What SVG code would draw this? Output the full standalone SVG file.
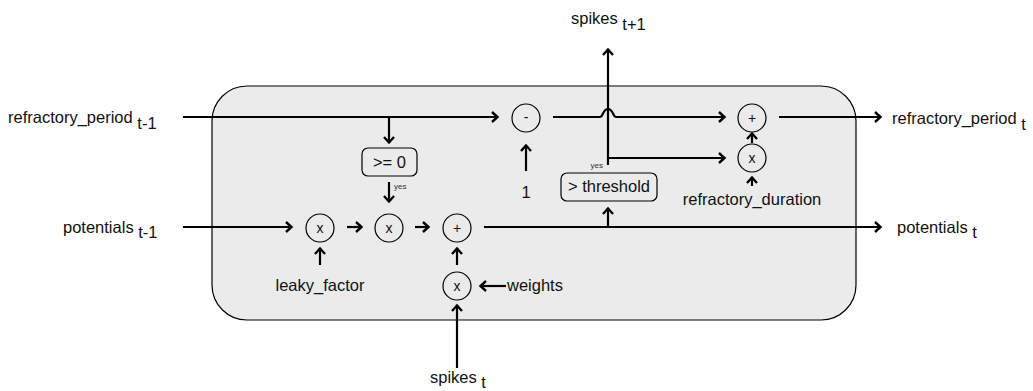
<svg xmlns="http://www.w3.org/2000/svg" width="1033" height="391" viewBox="0 0 1033 391">
  <style>
    text { font-family: "Liberation Sans", Arial, Helvetica, sans-serif; font-size: 16.5px; fill: #111; }
    .sym { font-size: 14px; text-anchor: middle; dominant-baseline: central; }
    .yes { font-size: 8px; fill: #333; }
    .mid { text-anchor: middle; }
    .conn { fill: none; stroke: #000; stroke-width: 2.2; }
    .arr { marker-end: url(#ah); }
    .node { fill: none; stroke: #000; stroke-width: 1.2; }
  </style>
  <defs>
    <marker id="ah" markerUnits="userSpaceOnUse" markerWidth="12" markerHeight="14" viewBox="0 0 12 14" refX="10" refY="7" orient="auto">
      <path d="M4,2 L9.5,7 L4,12" fill="none" stroke="#000" stroke-width="2.4" stroke-linejoin="miter"/>
    </marker>
  </defs>

  <g id="container">
    <rect x="212" y="86" width="644" height="234" rx="35" ry="35" fill="#ebebeb" stroke="#000" stroke-width="1.2"/>
  </g>

  <g id="connectors">
    <path class="conn arr" d="M183,117 H498"/>
    <path class="conn arr" d="M389,117 V143"/>
    <path class="conn arr" d="M389,182 V202"/>
    <path class="conn arr" d="M526,171 V145"/>
    <path class="conn arr" d="M553,117 H600 C603,117 603,109 608,109 C613,109 613,117 616,117 H725"/>
    <path class="conn arr" d="M779,117 H881"/>
    <path class="conn arr" d="M752,143 V133"/>
    <path class="conn arr" d="M752,186 V177"/>
    <path class="conn arr" d="M608,165 V49"/>
    <path class="conn arr" d="M608,158 H725"/>
    <path class="conn arr" d="M608,227 V208"/>
    <path class="conn arr" d="M183,227 H292"/>
    <path class="conn arr" d="M347,227 H362"/>
    <path class="conn arr" d="M415,227 H429"/>
    <path class="conn arr" d="M484,227 H881"/>
    <path class="conn arr" d="M320,265 V248"/>
    <path class="conn arr" d="M457,265 V248"/>
    <path class="conn arr" d="M506,286 H480"/>
    <path class="conn arr" d="M457,368 V305"/>
  </g>

  <g id="mul-leaky">
    <circle class="node" cx="320" cy="228" r="14"/>
    <text class="sym" x="320" y="228">x</text>
  </g>
  <g id="mul-refractory-gate">
    <circle class="node" cx="389" cy="228" r="14"/>
    <text class="sym" x="389" y="228">x</text>
  </g>
  <g id="add-potentials">
    <circle class="node" cx="457" cy="228" r="14"/>
    <text class="sym" x="457" y="228">+</text>
  </g>
  <g id="mul-weights">
    <circle class="node" cx="457" cy="286" r="14"/>
    <text class="sym" x="457" y="286">x</text>
  </g>
  <g id="sub-refractory">
    <circle class="node" cx="526" cy="118" r="14"/>
    <text class="sym" x="526" y="117">-</text>
  </g>
  <g id="add-refractory">
    <circle class="node" cx="752" cy="118" r="14"/>
    <text class="sym" x="752" y="118">+</text>
  </g>
  <g id="mul-duration">
    <circle class="node" cx="752" cy="158" r="14"/>
    <text class="sym" x="752" y="158">x</text>
  </g>

  <g id="ge-zero">
    <rect class="node" x="362" y="148" width="55" height="28" rx="6"/>
    <text class="mid" x="389.5" y="168">&gt;= 0</text>
  </g>
  <g id="gt-threshold">
    <rect class="node" x="561" y="173" width="96" height="28" rx="6"/>
    <text class="mid" x="609" y="192">&gt; threshold</text>
  </g>

  <g id="labels">
    <text x="8" y="123">refractory_period <tspan dy="6">t-1</tspan></text>
    <text x="63" y="233">potentials <tspan dy="5">t-1</tspan></text>
    <text x="892" y="124">refractory_period <tspan dy="6">t</tspan></text>
    <text x="897" y="233">potentials <tspan dy="5">t</tspan></text>
    <text x="571" y="24">spikes <tspan dy="6">t+1</tspan></text>
    <text x="430" y="383">spikes <tspan dy="5">t</tspan></text>
    <text class="mid" x="320" y="291">leaky_factor</text>
    <text x="507" y="291">weights</text>
    <text class="mid" x="526" y="198">1</text>
    <text class="mid" x="752" y="205">refractory_duration</text>
    <text class="yes" x="394" y="189">yes</text>
    <text class="yes" x="603" y="168" text-anchor="end">yes</text>
  </g>
</svg>
